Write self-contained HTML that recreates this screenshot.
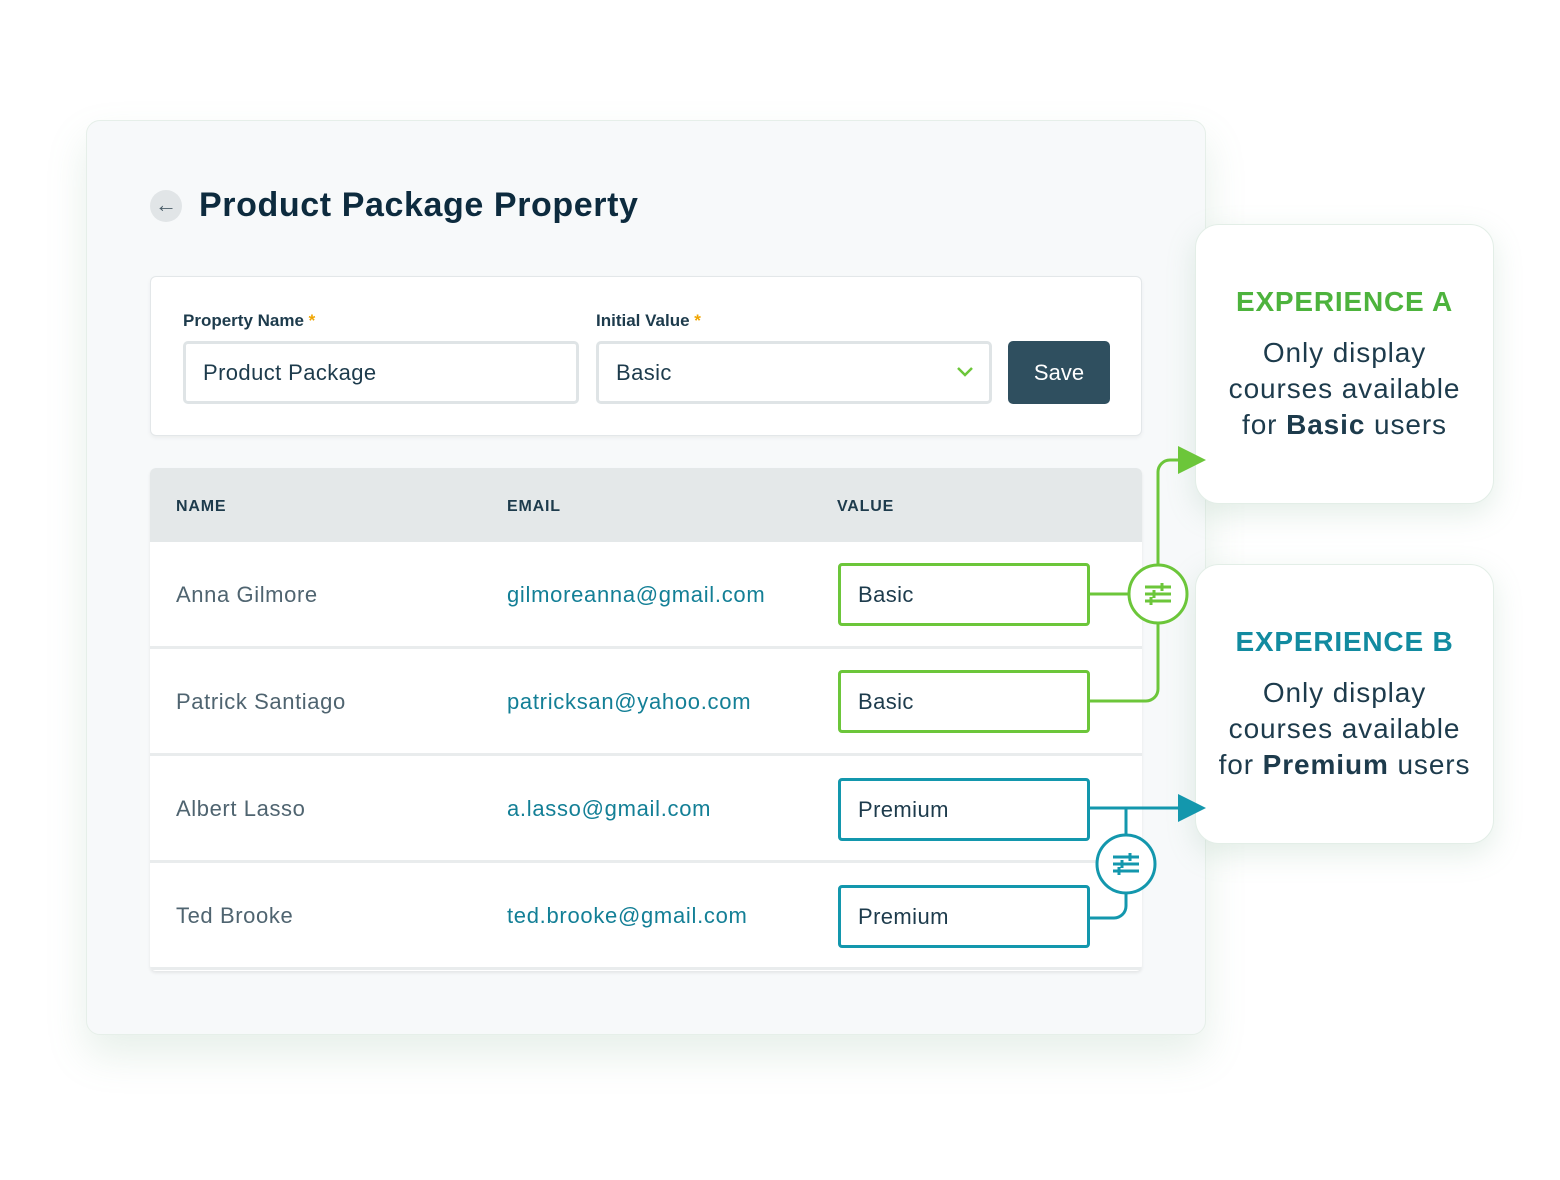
<!DOCTYPE html>
<html><head><meta charset="utf-8"><style>
*{margin:0;padding:0;box-sizing:border-box}
body{width:1560px;height:1180px;background:#fff;font-family:"Liberation Sans",sans-serif;position:relative;overflow:hidden;color:#1d3b4c}
.a{position:absolute}
.main{left:86px;top:120px;width:1120px;height:915px;background:#f7f9fa;border:1px solid #e6efe9;border-radius:14px;box-shadow:0 20px 40px rgba(120,170,140,.18)}
.form{left:150px;top:276px;width:992px;height:160px;background:#fff;border:1px solid #e3e7e9;border-radius:6px;box-shadow:0 2px 4px rgba(0,0,0,.05)}
.lbl{font-size:17px;font-weight:bold;color:#1d3b4c}
.lbl span{color:#f0a500}
.inp{height:63px;border:3px solid #dfe4e6;border-radius:5px;background:#fff;font-size:22px;padding:0 17px;line-height:57px;color:#1d3b4c;letter-spacing:.4px}
.tbl{left:150px;top:468px;width:992px;height:503px;background:#fff;border-radius:6px;box-shadow:0 2px 3px rgba(0,0,0,.08);overflow:hidden}
.hd{left:0;top:0;width:992px;height:74px;background:#e4e8e9}
.th{font-size:16px;font-weight:bold;top:30px;letter-spacing:.8px;color:#1d3b4c}
.sep{left:0;width:992px;height:3px;background:#e9eced}
.nm{font-size:22px;color:#4f6470;letter-spacing:.6px}
.em{font-size:22px;color:#137f96;letter-spacing:.7px}
.vb{width:252px;height:63px;border:3px solid;border-radius:4px;font-size:22px;padding-left:17px;line-height:57px;color:#1d3b4c;background:#fff;letter-spacing:.4px}
.g{border-color:#6cc63a}.t{border-color:#1397ad}
.card{width:299px;height:280px;background:#fff;border:1px solid #e3eee7;border-radius:24px;box-shadow:0 10px 30px rgba(120,170,140,.2);text-align:center}
.ct{font-size:28px;font-weight:bold;letter-spacing:.8px;margin-top:61px}
.cb{font-size:28px;line-height:36px;margin-top:17px;color:#1d3b4c;letter-spacing:.9px}
</style></head><body>
<div class="a main"></div>
<div class="a" style="left:150px;top:190px;width:32px;height:32px;border-radius:50%;background:#e1e5e7;text-align:center;line-height:30px;font-size:22px;color:#4a5d68">&#8592;</div>
<div class="a" style="left:199px;top:186px;font-size:34px;font-weight:bold;color:#0d2b3e;letter-spacing:.6px">Product Package Property</div>
<div class="a form"></div>
<div class="a lbl" style="left:183px;top:311px">Property Name <span>*</span></div>
<div class="a lbl" style="left:596px;top:311px">Initial Value <span>*</span></div>
<div class="a inp" style="left:183px;top:341px;width:396px">Product Package</div>
<div class="a inp" style="left:596px;top:341px;width:396px">Basic</div>
<svg class="a" style="left:955px;top:365px" width="20" height="14"><path d="M3 3l7 7 7-7" fill="none" stroke="#6cc63a" stroke-width="2.5"/></svg>
<div class="a" style="left:1008px;top:341px;width:102px;height:63px;background:#2f4f5f;border-radius:5px;color:#fff;font-size:22px;text-align:center;line-height:63px">Save</div>
<div class="a tbl">
<div class="a hd"></div>
<div class="a th" style="left:26px">NAME</div>
<div class="a th" style="left:357px">EMAIL</div>
<div class="a th" style="left:687px">VALUE</div>
<div class="a sep" style="top:178px"></div>
<div class="a sep" style="top:285px"></div>
<div class="a sep" style="top:392px"></div>
<div class="a sep" style="top:499px"></div>
<div class="a nm" style="left:26px;top:114px">Anna Gilmore</div>
<div class="a em" style="left:357px;top:114px">gilmoreanna@gmail.com</div>
<div class="a nm" style="left:26px;top:221px">Patrick Santiago</div>
<div class="a em" style="left:357px;top:221px">patricksan@yahoo.com</div>
<div class="a nm" style="left:26px;top:328px">Albert Lasso</div>
<div class="a em" style="left:357px;top:328px">a.lasso@gmail.com</div>
<div class="a nm" style="left:26px;top:435px">Ted Brooke</div>
<div class="a em" style="left:357px;top:435px">ted.brooke@gmail.com</div>
</div>
<div class="a vb g" style="left:838px;top:563px">Basic</div>
<div class="a vb g" style="left:838px;top:670px">Basic</div>
<div class="a vb t" style="left:838px;top:778px">Premium</div>
<div class="a vb t" style="left:838px;top:885px">Premium</div>
<div class="a card" style="left:1195px;top:224px"><div class="ct" style="color:#4db33d">EXPERIENCE A</div><div class="cb">Only display<br>courses available<br>for <b>Basic</b> users</div></div>
<div class="a card" style="left:1195px;top:564px"><div class="ct" style="color:#128ba0">EXPERIENCE B</div><div class="cb">Only display<br>courses available<br>for <b>Premium</b> users</div></div>
<svg class="a" style="left:0;top:0" width="1560" height="1180">
<g fill="none" stroke="#6cc63a" stroke-width="3">
<path d="M1089 594H1129"/>
<path d="M1089 701H1146a12 12 0 0 0 12-12V623"/>
<path d="M1158 565V472a12 12 0 0 1 12-12H1185"/>
<circle cx="1158" cy="594" r="29" fill="#fff"/>
<path d="M1145 587h26M1145 594h26M1145 601h26"/>
</g>
<polygon points="1178,446 1206,460 1178,474" fill="#6cc63a"/>
<g stroke="#6cc63a" stroke-width="3"><path d="M1162 583v8M1154 590v8M1151 597v8"/></g>
<g fill="none" stroke="#1397ad" stroke-width="3">
<path d="M1089 808H1185"/>
<path d="M1126 808V835"/>
<path d="M1126 893V906a12 12 0 0 1-12 12H1089"/>
<circle cx="1126" cy="864" r="29" fill="#fff"/>
<path d="M1113 857h26M1113 864h26M1113 871h26"/>
<path d="M1130 853v8M1122 860v8M1119 867v8"/>
</g>
<polygon points="1178,794 1206,808 1178,822" fill="#1397ad"/>
</svg>
</body></html>
